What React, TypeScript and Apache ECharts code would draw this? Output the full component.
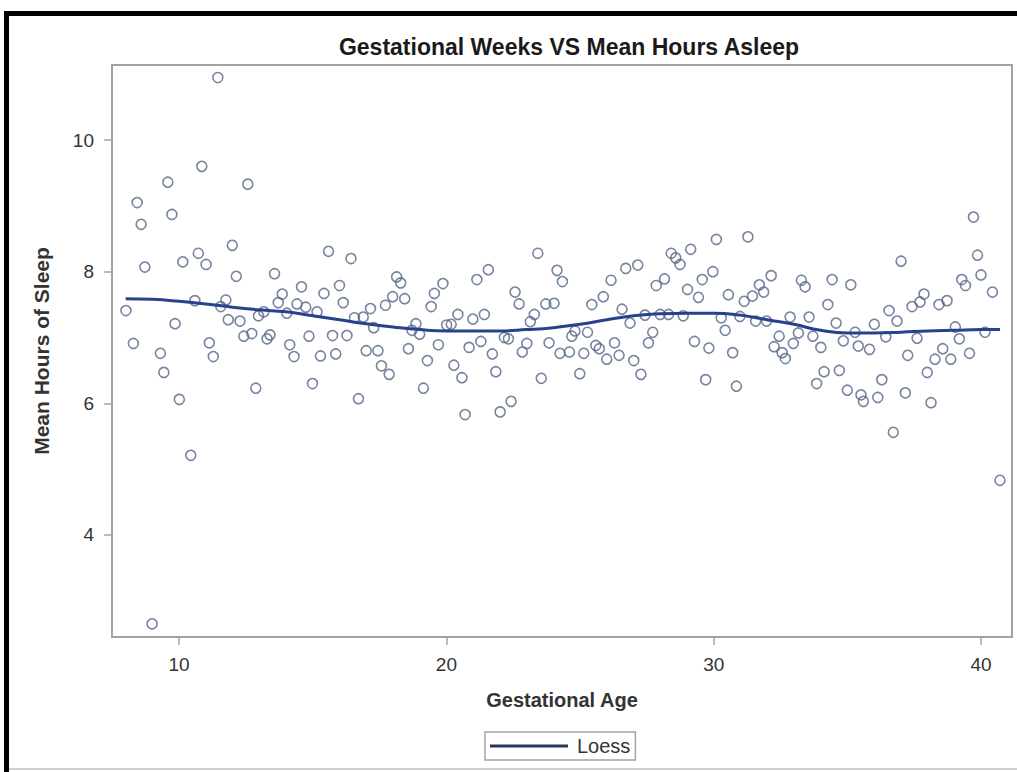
import React, { useEffect, useRef } from "react";
import * as echarts from "echarts";

// Scatter: gestational age (weeks) vs mean hours of sleep
const gestAge = [
  8.01, 8.29, 8.43, 8.58, 8.72, 8.99, 9.30, 9.43, 9.58, 9.73, 9.85, 10.01, 10.14, 10.44, 10.59, 10.72, 10.85, 11.01,
  11.13, 11.28, 11.45, 11.56, 11.75, 11.84, 11.99, 12.14, 12.28, 12.42, 12.57, 12.72, 12.87, 12.97, 13.17, 13.29, 13.40,
  13.57, 13.71, 13.86, 14.03, 14.14, 14.30, 14.41, 14.58, 14.74, 14.86, 14.99, 15.16, 15.29, 15.42, 15.59, 15.74, 15.86,
  16.00, 16.14, 16.28, 16.43, 16.56, 16.71, 16.89, 17.00, 17.16, 17.28, 17.44, 17.57, 17.72, 17.86, 17.99, 18.14, 18.29,
  18.44, 18.58, 18.71, 18.86, 19.00, 19.14, 19.29, 19.43, 19.55, 19.70, 19.87, 20.01, 20.18, 20.28, 20.43, 20.58, 20.70,
  20.85, 20.99, 21.14, 21.29, 21.42, 21.57, 21.72, 21.85, 22.01, 22.17, 22.32, 22.42, 22.57, 22.72, 22.84, 23.01, 23.14,
  23.29, 23.42, 23.55, 23.72, 23.84, 24.03, 24.14, 24.25, 24.34, 24.60, 24.69, 24.81, 24.99, 25.14, 25.28, 25.44, 25.59,
  25.72, 25.87, 26.00, 26.16, 26.29, 26.46, 26.57, 26.71, 26.87, 27.01, 27.16, 27.28, 27.43, 27.56, 27.72, 27.85, 28.00,
  28.16, 28.31, 28.41, 28.58, 28.74, 28.86, 29.02, 29.14, 29.28, 29.43, 29.57, 29.70, 29.82, 29.97, 30.10, 30.28, 30.43,
  30.55, 30.71, 30.85, 30.98, 31.14, 31.28, 31.45, 31.57, 31.71, 31.87, 31.98, 32.15, 32.26, 32.45, 32.56, 32.68, 32.86,
  32.98, 33.17, 33.28, 33.42, 33.57, 33.71, 33.85, 34.01, 34.13, 34.27, 34.43, 34.58, 34.70, 34.85, 35.00, 35.13, 35.29,
  35.41, 35.51, 35.60, 35.83, 36.01, 36.14, 36.29, 36.44, 36.56, 36.72, 36.86, 37.01, 37.17, 37.26, 37.42, 37.61, 37.72,
  37.87, 37.99, 38.13, 38.28, 38.43, 38.57, 38.73, 38.87, 39.04, 39.19, 39.28, 39.42, 39.57, 39.72, 39.87, 40.00, 40.15,
  40.43, 40.71,
];
const meanSleep = [
  7.41, 6.91, 9.05, 8.72, 8.07, 2.65, 6.76, 6.47, 9.36, 8.87, 7.21, 6.06, 8.15, 5.21, 7.56, 8.28, 9.60, 8.11,
  6.92, 6.71, 10.95, 7.47, 7.57, 7.27, 8.40, 7.93, 7.25, 7.02, 9.33, 7.06, 6.23, 7.33, 7.39, 6.98, 7.04,
  7.97, 7.53, 7.66, 7.37, 6.89, 6.71, 7.51, 7.77, 7.46, 7.02, 6.30, 7.39, 6.72, 7.67, 8.31, 7.03, 6.75,
  7.79, 7.53, 7.03, 8.20, 7.30, 6.07, 7.31, 6.80, 7.44, 7.15, 6.80, 6.57, 7.49, 6.44, 7.62, 7.92, 7.83,
  7.59, 6.83, 7.11, 7.21, 7.05, 6.23, 6.65, 7.47, 7.67, 6.89, 7.82, 7.19, 7.20, 6.58, 7.35, 6.39, 5.83,
  6.85, 7.28, 7.88, 6.94, 7.35, 8.03, 6.75, 6.48, 5.87, 7.00, 6.98, 6.03, 7.69, 7.51, 6.78, 6.91, 7.24,
  7.35, 8.28, 6.38, 7.51, 6.92, 7.52, 8.02, 6.76, 7.85, 6.78, 7.02, 7.10, 6.45, 6.76, 7.08, 7.50, 6.88,
  6.83, 7.62, 6.67, 7.87, 6.92, 6.73, 7.43, 8.05, 7.22, 6.65, 8.10, 6.44, 7.34, 6.92, 7.08, 7.79, 7.35,
  7.89, 7.35, 8.28, 8.21, 8.11, 7.33, 7.73, 8.34, 6.94, 7.61, 7.88, 6.36, 6.84, 8.00, 8.49, 7.30, 7.11,
  7.65, 6.77, 6.26, 7.32, 7.55, 8.53, 7.63, 7.25, 7.80, 7.69, 7.25, 7.94, 6.86, 7.02, 6.77, 6.68, 7.31,
  6.91, 7.07, 7.87, 7.77, 7.31, 7.02, 6.30, 6.85, 6.48, 7.50, 7.88, 7.22, 6.50, 6.95, 6.20, 7.80, 7.08,
  6.87, 6.13, 6.03, 6.82, 7.20, 6.09, 6.36, 7.01, 7.41, 5.56, 7.25, 8.16, 6.16, 6.73, 7.47, 6.99, 7.54,
  7.66, 6.47, 6.01, 6.67, 7.50, 6.83, 7.56, 6.67, 7.16, 6.98, 7.88, 7.79, 6.76, 8.83, 8.25, 7.95, 7.08,
  7.69, 4.83,
];

// Loess fit curve
const loessAge = [8.0, 9, 10, 11, 12, 13, 14, 15, 16, 17, 18, 19, 20, 21, 22, 23, 24, 25, 26, 27, 28, 29, 30, 31, 32, 33, 34, 35, 36, 37, 38, 39, 40, 40.71];
const loessSleep = [7.59, 7.58, 7.55, 7.51, 7.46, 7.42, 7.39, 7.33, 7.27, 7.21, 7.16, 7.12, 7.10, 7.10, 7.10, 7.12, 7.15, 7.20, 7.27, 7.33, 7.36, 7.37, 7.37, 7.34, 7.27, 7.20, 7.11, 7.07, 7.07, 7.08, 7.10, 7.11, 7.12, 7.12];

const xTicks = [10, 20, 30, 40];
const yTicks = [4, 6, 8, 10];

const FONT = "'Liberation Sans', Arial, sans-serif";

export default function App() {
  const ref = useRef<HTMLDivElement>(null);
  useEffect(() => {
    if (!ref.current) return;
    const chart = echarts.init(ref.current, null, { renderer: "svg" });
    const scatterData = gestAge.map((x, i) => [x, meanSleep[i]]);
    const loessData = loessAge.map((x, i) => [x, loessSleep[i]]);
    chart.setOption({
      animation: false,
      backgroundColor: "#ffffff",
      title: {
        text: "Gestational Weeks VS Mean Hours Asleep",
        left: 564,
        top: 30,
        textAlign: "center",
        textStyle: { fontFamily: FONT, fontSize: 23, fontWeight: "bold", color: "#1a1a1a" },
      },
      grid: {
        left: 112,
        top: 65,
        right: 5,
        bottom: 135,
        show: true,
        borderColor: "#a3a3a3",
        borderWidth: 2,
        backgroundColor: "#ffffff",
      },
      legend: {
        left: 485,
        top: 732,
        padding: [4, 5, 4, 5],
        borderColor: "#a3a3a3",
        borderWidth: 1.5,
        itemWidth: 78,
        itemHeight: 3,
        icon: "rect",
        data: [{ name: "Loess", icon: "rect", itemStyle: { color: "#223a58" } }],
        textStyle: { fontFamily: FONT, fontSize: 20, color: "#333333", padding: [0, 0, 0, 4] },
      },
      xAxis: {
        type: "value",
        min: 7.49,
        max: 41.16,
        name: "Gestational Age",
        nameLocation: "middle",
        nameGap: 53,
        nameTextStyle: { fontFamily: FONT, fontSize: 20, fontWeight: "bold", color: "#333333" },
        axisLine: { show: true, lineStyle: { color: "#a3a3a3", width: 2 } },
        axisTick: { show: true, length: 8, customValues: xTicks, lineStyle: { color: "#a3a3a3", width: 1.5 } },
        axisLabel: { customValues: xTicks, margin: 18, fontFamily: FONT, fontSize: 19, color: "#333333" },
        splitLine: { show: false },
      },
      yAxis: {
        type: "value",
        min: 2.45,
        max: 11.14,
        name: "Mean Hours of Sleep",
        nameLocation: "middle",
        nameGap: 60,
        nameTextStyle: { fontFamily: FONT, fontSize: 21, fontWeight: "bold", color: "#333333" },
        axisLine: { show: true, lineStyle: { color: "#a3a3a3", width: 2 } },
        axisTick: { show: true, length: 8, customValues: yTicks, lineStyle: { color: "#a3a3a3", width: 1.5 } },
        axisLabel: { customValues: yTicks, margin: 18, fontFamily: FONT, fontSize: 19, color: "#333333" },
        splitLine: { show: false },
      },
      graphic: [
        { type: "rect", shape: { x: 4, y: 11, width: 1013, height: 5 }, style: { fill: "#000000" }, silent: true },
        { type: "rect", shape: { x: 4, y: 11, width: 5, height: 761 }, style: { fill: "#000000" }, silent: true },
        { type: "rect", shape: { x: 9, y: 768, width: 1008, height: 2 }, style: { fill: "#d0d0d0" }, silent: true },
      ],
      series: [
        {
          name: "Scatter",
          type: "scatter",
          data: scatterData,
          symbol: "circle",
          symbolSize: 10,
          itemStyle: { color: "rgba(255,255,255,0)", borderColor: "#56678a", borderWidth: 1.6 },
          z: 2,
        },
        {
          name: "Loess",
          type: "line",
          data: loessData,
          smooth: true,
          symbol: "none",
          lineStyle: { color: "#28418c", width: 3 },
          itemStyle: { color: "#28418c" },
          z: 3,
        },
      ],
    });
    return () => chart.dispose();
  }, []);
  return (
    <div
      ref={ref}
      style={{ position: "absolute", left: 0, top: 0, width: 1017, height: 772 }}
    />
  );
}
